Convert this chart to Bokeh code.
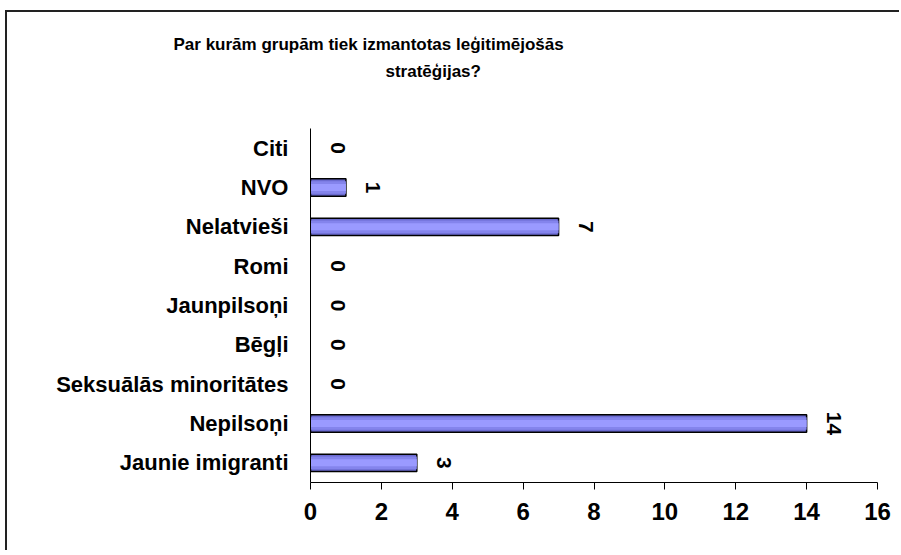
import math
from bokeh.plotting import figure
from bokeh.models import Range1d, FactorRange, Title, ColumnDataSource, FixedTicker
from bokeh.core.properties import value
from bokeh.embed import file_html
from bokeh.resources import INLINE

# ---- data (bottom to top) ----
categories = ["Jaunie imigranti", "Nepilsoņi", "Seksuālās minoritātes", "Bēgļi",
              "Jaunpilsoņi", "Romi", "Nelatvieši", "NVO", "Citi"]
counts = [3, 14, 0, 0, 0, 0, 7, 1, 0]
x_ticks = [0, 2, 4, 6, 8, 10, 12, 14, 16]
title_line1 = "Par kurām grupām tiek izmantotas leģitimējošās"
title_line2 = "stratēģijas?"

FONT = "Liberation Sans"
W, H = 894, 540
ML, MR, MT, MB = 303, 24, 116, 70

src = ColumnDataSource(dict(
    cat=categories,
    val=counts,
    lbl=[str(v) for v in counts],
    la=[1.0 if v > 0 else 0.0 for v in counts],
))

p = figure(width=W, height=H, output_backend="svg", toolbar_location=None,
           y_range=FactorRange(factors=categories, range_padding=0),
           x_range=Range1d(0, 16),
           min_border_left=ML, min_border_right=MR,
           min_border_top=MT, min_border_bottom=MB)
p.styles = {"border-left": "2px solid #222222", "border-top": "2px solid #222222",
            "margin-left": "5px", "margin-top": "10px"}

p.background_fill_color = "white"
p.border_fill_color = "white"
p.outline_line_color = None
p.xgrid.visible = False
p.ygrid.visible = False

# bars with a banded "3D" look
p.hbar(y="cat", left=0, right="val", height=0.44, source=src,
       fill_color="#6b6bd0", line_color="black", line_width=1.5, line_alpha="la")
p.hbar(y="cat", left=0, right="val", height=0.32, source=src,
       fill_color="#8484ec", line_color=None)
p.hbar(y="cat", left=0, right="val", height=0.18, source=src,
       fill_color="#9a9aff", line_color=None)

# value labels, rotated
p.text(x="val", y="cat", text="lbl", source=src, angle=-math.pi / 2,
       x_offset=27, text_align="center", text_baseline="middle",
       text_font=value(FONT), text_font_size="21px", text_font_style="bold",
       text_color="black")

# axes
xa = p.xaxis[0]
xa.ticker = FixedTicker(ticks=x_ticks)
xa.major_tick_out = 7
xa.major_tick_in = 0
xa.minor_tick_out = 0
xa.minor_tick_in = 0
xa.axis_line_color = "black"
xa.major_tick_line_color = "black"
xa.major_label_text_font = FONT
xa.major_label_text_font_size = "24px"
xa.major_label_text_font_style = "bold"
xa.major_label_text_color = "black"
xa.major_label_standoff = 13

ya = p.yaxis[0]
ya.major_tick_out = 0
ya.major_tick_in = 0
ya.minor_tick_out = 0
ya.axis_line_color = "black"
ya.major_label_text_font = FONT
ya.major_label_text_font_size = "22px"
ya.major_label_text_font_style = "bold"
ya.major_label_text_color = "black"
ya.major_label_standoff = 22

# title: two lines stacked above the frame with a spacer below them
def style_title(t):
    t.text_font = FONT
    t.text_font_size = "17px"
    t.text_font_style = "bold"
    t.text_color = "black"

p.title.text = title_line1
p.title.align = "left"
p.title.offset = 166 - ML
p.title.standoff = 6
style_title(p.title)

spacer = Title(text=" ", align="left", standoff=24)
style_title(spacer)
p.add_layout(spacer, "above")

t2 = Title(text=title_line2, align="left", offset=378 - ML, standoff=6)
style_title(t2)
p.add_layout(t2, "above")

open("out.html", "w").write(file_html(p, INLINE))
